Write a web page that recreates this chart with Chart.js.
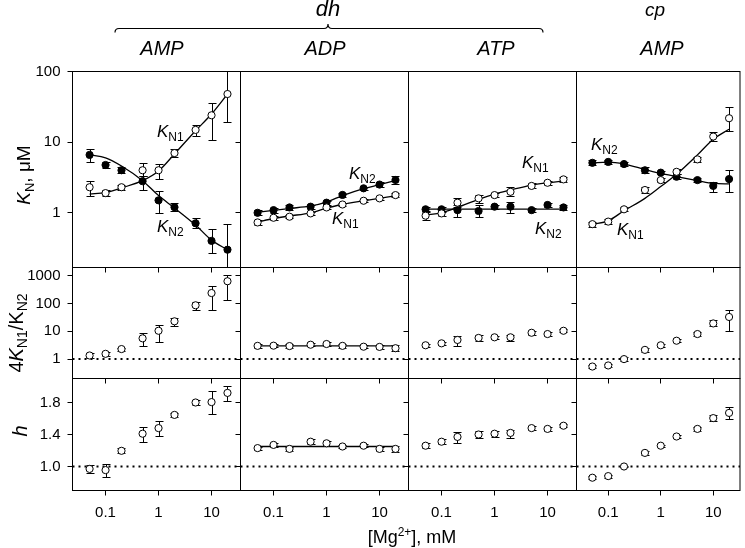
<!DOCTYPE html>
<html>
<head>
<meta charset="utf-8">
<script src="https://cdn.jsdelivr.net/npm/chart.js@4.4.0/dist/chart.umd.min.js"></script>
<style>
  body { margin: 0; background: #fff; }
  #wrap { position: relative; width: 745px; height: 548px; overflow: hidden; font-family: 'Liberation Sans', Arial, sans-serif; color: #000; }
  #wrap canvas { position: absolute; left: 0; top: 0; }
  .txt { position: absolute; white-space: nowrap; line-height: 1; }
  .it { font-style: italic; }
  .kn { font-size: 17px; }
  .kn .s { font-size: 12px; position: relative; top: 4px; }
  .s { position: relative; top: 4px; }
  .rot { transform: translate(-50%, -50%) rotate(-90deg); }
  .ctr { transform: translateX(-50%); }
</style>
</head>
<body>
<div id="wrap">
  <svg width="745" height="548" style="position:absolute;left:0;top:0">
    <path d="M115,32.5 Q115,28.5 119,28.5 L324,28.5 Q328,28.5 328,24 Q328,28.5 332,28.5 L539,28.5 Q543,28.5 543,32.5" fill="none" stroke="#000" stroke-width="1.2"/>
  </svg>
  <div class="txt it ctr" style="left:328px;top:-2px;font-size:22px">dh</div>
  <div class="txt it ctr" style="left:655px;top:0px;font-size:19px">cp</div>
  <div class="txt it ctr" style="left:162px;top:38px;font-size:20px">AMP</div>
  <div class="txt it ctr" style="left:325px;top:38px;font-size:20px">ADP</div>
  <div class="txt it ctr" style="left:496px;top:38px;font-size:20px">ATP</div>
  <div class="txt it ctr" style="left:662px;top:38px;font-size:20px">AMP</div>

  <div class="txt kn" style="left:157px;top:123px"><i>K</i><span class="s">N1</span></div>
  <div class="txt kn" style="left:157px;top:218px"><i>K</i><span class="s">N2</span></div>
  <div class="txt kn" style="left:349px;top:165px"><i>K</i><span class="s">N2</span></div>
  <div class="txt kn" style="left:332px;top:210px"><i>K</i><span class="s">N1</span></div>
  <div class="txt kn" style="left:522px;top:154px"><i>K</i><span class="s">N1</span></div>
  <div class="txt kn" style="left:535px;top:220px"><i>K</i><span class="s">N2</span></div>
  <div class="txt kn" style="left:591px;top:136px"><i>K</i><span class="s">N2</span></div>
  <div class="txt kn" style="left:617px;top:221px"><i>K</i><span class="s">N1</span></div>

  <div class="txt rot" style="left:23px;top:175px;font-size:19px"><i>K</i><span class="s" style="font-size:13px">N</span>, μM</div>
  <div class="txt rot" style="left:16px;top:333px;font-size:20px">4<i>K</i><span class="s" style="font-size:14px">N1</span>/K<span class="s" style="font-size:14px">N2</span></div>
  <div class="txt rot it" style="left:20px;top:431px;font-size:20px">h</div>
  <div class="txt" style="left:412px;top:537px;transform:translate(-50%,-50%);font-size:18px">[Mg<span style="font-size:12px;position:relative;top:-7px">2+</span>], mM</div>
</div>
<script>
// Mg2+ concentrations, mM
const mg = [0.05, 0.1, 0.2, 0.5, 1, 2, 5, 10, 20];

const xTicks = [0.1, 1, 10];
const xTickLabels = ['0.1', '1', '10'];
const kTicks = [1, 10, 100];
const kTickLabels = ['1', '10', '100'];
const ratioTicks = [1, 10, 100, 1000];
const ratioTickLabels = ['1', '10', '100', '1000'];
const hTicks = [1.0, 1.4, 1.8];
const hTickLabels = ['1.0', '1.4', '1.8'];
const refLevel = 1;

// K_N (uM) -- dh AMP
const dhAMP_kn1 = [2.3, 1.9, 2.3, 4.0, 4.0, 7.0, 14.9, 24, 48];
const dhAMP_kn1Hi = [2.8, 2.1, 2.5, 5.0, 4.9, 7.9, 17.5, 36, 110];
const dhAMP_kn1Lo = [1.75, 1.75, 2.1, 3.3, 3.0, 6.2, 12.3, 10.7, 19.5];
const dhAMP_kn2 = [6.6, 4.75, 4.0, 2.8, 1.5, 1.2, 0.71, 0.40, 0.30];
const dhAMP_kn2Hi = [7.9, 5.2, 4.5, 3.3, 2.05, 1.39, 0.83, 0.58, 0.69];
const dhAMP_kn2Lo = [5.3, 4.3, 3.6, 2.1, 1.0, 1.07, 0.6, 0.27, 0.13];
const dhAMP_fit1 = [1.84, 1.93, 2.25, 2.85, 3.9, 6.8, 14.5, 25, 48];
const dhAMP_fit2 = [6.6, 6.0, 4.6, 2.85, 1.75, 1.17, 0.67, 0.41, 0.30];

// dh ADP
const dhADP_kn1 = [0.73, 0.85, 0.88, 0.98, 1.19, 1.31, 1.48, 1.6, 1.78];
const dhADP_kn1Hi = [0.78, 0.9, 0.94, 1.04, 1.26, 1.38, 1.56, 1.68, 1.9];
const dhADP_kn1Lo = [0.68, 0.8, 0.83, 0.92, 1.12, 1.24, 1.4, 1.52, 1.68];
const dhADP_kn2 = [1.0, 1.09, 1.19, 1.22, 1.39, 1.79, 2.22, 2.51, 2.91];
const dhADP_kn2Hi = [1.08, 1.18, 1.28, 1.3, 1.48, 1.9, 2.35, 2.7, 3.3];
const dhADP_kn2Lo = [0.93, 1.0, 1.1, 1.13, 1.3, 1.68, 2.1, 2.35, 2.55];
const dhADP_fit1 = [0.74, 0.83, 0.9, 1.0, 1.16, 1.32, 1.48, 1.6, 1.75];
const dhADP_fit2 = [1.02, 1.08, 1.15, 1.25, 1.42, 1.75, 2.2, 2.5, 2.85];

// dh ATP
const dhATP_kn1 = [0.91, 0.98, 1.39, 1.6, 1.78, 1.98, 2.4, 2.66, 2.97];
const dhATP_kn1Hi = [1.05, 1.06, 1.6, 1.8, 1.93, 2.3, 2.6, 2.85, 3.2];
const dhATP_kn1Lo = [0.8, 0.91, 1.2, 1.39, 1.65, 1.7, 2.25, 2.5, 2.75];
const dhATP_kn2 = [1.12, 1.12, 1.09, 1.06, 1.22, 1.22, 1.09, 1.29, 1.19];
const dhATP_kn2Hi = [1.22, 1.22, 1.29, 1.29, 1.3, 1.43, 1.16, 1.38, 1.27];
const dhATP_kn2Lo = [1.03, 1.03, 0.88, 0.88, 1.14, 1.0, 1.02, 1.2, 1.11];
const dhATP_fit1 = [0.93, 1.0, 1.19, 1.55, 1.84, 2.1, 2.47, 2.66, 2.82];
const dhATP_fit2 = [1.13, 1.13, 1.13, 1.13, 1.13, 1.13, 1.13, 1.13, 1.13];

// cp AMP
const cpAMP_kn1 = [0.69, 0.75, 1.12, 2.1, 2.9, 3.8, 5.7, 12.0, 21.8];
const cpAMP_kn1Hi = [0.75, 0.81, 1.2, 2.35, 3.15, 4.15, 6.2, 14, 31];
const cpAMP_kn1Lo = [0.63, 0.7, 1.05, 1.9, 2.7, 3.5, 5.3, 10.5, 14.5];
const cpAMP_kn2 = [5.1, 5.25, 4.9, 4.0, 3.7, 3.24, 2.9, 2.4, 3.0];
const cpAMP_kn2Hi = [5.5, 5.6, 5.2, 4.4, 3.9, 3.5, 3.1, 2.75, 4.0];
const cpAMP_kn2Lo = [4.7, 4.9, 4.6, 3.6, 3.5, 3.0, 2.7, 2.0, 2.0];
const cpAMP_fit1 = [0.69, 0.77, 1.07, 1.6, 2.35, 3.5, 6.6, 11, 15.2];
const cpAMP_fit2 = [5.1, 5.2, 4.9, 4.1, 3.6, 3.25, 2.85, 2.6, 2.57];

// 4K_N1/K_N2
const dhAMP_ratio = [1.35, 1.55, 2.3, 5.6, 10.5, 23, 87, 240, 640];
const dhAMP_ratioHi = [1.6, 1.8, 2.6, 8.7, 17, 30, 110, 420, 1100];
const dhAMP_ratioLo = [1.1, 1.3, 2.0, 2.9, 4.3, 16, 60, 60, 140];
const dhADP_ratio = [3.0, 3.05, 2.95, 3.3, 3.5, 3.0, 2.8, 2.75, 2.47];
const dhADP_ratioHi = [3.5, 3.55, 3.4, 3.8, 4.0, 3.4, 3.2, 3.15, 3.1];
const dhADP_ratioLo = [2.6, 2.65, 2.55, 2.85, 3.05, 2.6, 2.45, 2.4, 2.0];
const dhADP_ratioFit = [3.0, 3.0, 3.0, 3.0, 3.0, 3.0, 3.0, 3.0, 3.0];
const dhATP_ratio = [3.15, 3.7, 4.9, 5.8, 6.1, 6.1, 8.9, 8.0, 10.5];
const dhATP_ratioHi = [3.6, 4.3, 6.6, 7.2, 7.0, 7.5, 10.3, 9.2, 12];
const dhATP_ratioLo = [2.7, 3.2, 3.0, 4.5, 5.3, 4.5, 7.6, 7.0, 9.1];
const cpAMP_ratio = [0.54, 0.59, 1.0, 2.15, 3.15, 4.6, 8.0, 19.3, 33];
const cpAMP_ratioHi = [0.62, 0.68, 1.15, 2.6, 3.6, 5.3, 9.2, 25, 60];
const cpAMP_ratioLo = [0.47, 0.51, 0.87, 1.8, 2.75, 4.0, 7.0, 15, 10];

// Hill coefficient h
const dhAMP_h = [0.97, 0.955, 1.196, 1.41, 1.48, 1.645, 1.80, 1.805, 1.92];
const dhAMP_hHi = [1.02, 1.03, 1.23, 1.5, 1.57, 1.67, 1.83, 1.94, 2.01];
const dhAMP_hLo = [0.92, 0.87, 1.17, 1.31, 1.38, 1.62, 1.77, 1.66, 1.82];
const dhADP_h = [1.23, 1.27, 1.22, 1.31, 1.29, 1.25, 1.26, 1.22, 1.22];
const dhADP_hHi = [1.25, 1.3, 1.25, 1.34, 1.32, 1.27, 1.28, 1.25, 1.26];
const dhADP_hLo = [1.21, 1.24, 1.19, 1.28, 1.26, 1.23, 1.24, 1.19, 1.18];
const dhADP_hFit = [1.25, 1.25, 1.25, 1.25, 1.25, 1.25, 1.25, 1.25, 1.25];
const dhATP_h = [1.26, 1.31, 1.37, 1.40, 1.41, 1.42, 1.48, 1.47, 1.51];
const dhATP_hHi = [1.29, 1.34, 1.43, 1.44, 1.45, 1.46, 1.505, 1.49, 1.53];
const dhATP_hLo = [1.23, 1.28, 1.30, 1.36, 1.37, 1.36, 1.455, 1.45, 1.49];
const cpAMP_h = [0.86, 0.88, 1.0, 1.17, 1.26, 1.375, 1.47, 1.605, 1.67];
const cpAMP_hHi = [0.88, 0.9, 1.01, 1.2, 1.27, 1.395, 1.49, 1.645, 1.75];
const cpAMP_hLo = [0.84, 0.86, 0.99, 1.14, 1.25, 1.355, 1.45, 1.565, 1.59];

// panel grid
const colLeft = [72.5, 240.5, 408.5, 576.5];
const colWidth = [168, 168, 168, 165];
const rowTop = [71.5, 267.5, 378.5];
const rowHeight = [196, 111, 112];
const xMin = [0.0238, 0.0238, 0.0238, 0.0249];
const xMax = [35.2, 35.2, 35.2, 32.3];
const yMin = [0.168, 0.2, 0.7];
const yMax = [100, 2000, 2.1];
const yLog = [true, true, false];
const yTicks = [kTicks, ratioTicks, hTicks];
const yTickLabels = [kTickLabels, ratioTickLabels, hTickLabels];

Chart.defaults.font.family = "'Liberation Sans', Arial, sans-serif";
Chart.defaults.font.size = 15;
Chart.defaults.color = '#000';

// error bars under the markers + box around each panel
const panelPlugin = {
    id: 'panelPlugin',
    beforeDatasetsDraw(chart) {
        const ctx = chart.ctx;
        const a = chart.chartArea;
        const xs = chart.scales.x, ys = chart.scales.y;
        ctx.save();
        ctx.beginPath();
        ctx.rect(a.left, a.top, a.right - a.left, a.bottom - a.top);
        ctx.clip();
        ctx.strokeStyle = '#000';
        ctx.lineWidth = 1;
        chart.data.datasets.forEach(ds => {
            if (!ds.errHi) return;
            ds.data.forEach((p, i) => {
                const px = Math.round(xs.getPixelForValue(p.x)) + 0.5;
                const yh = Math.round(ys.getPixelForValue(ds.errHi[i])) + 0.5;
                const yl = Math.round(ys.getPixelForValue(ds.errLo[i])) + 0.5;
                ctx.beginPath();
                ctx.moveTo(px, yh); ctx.lineTo(px, yl);
                ctx.moveTo(px - 4, yh); ctx.lineTo(px + 4, yh);
                ctx.moveTo(px - 4, yl); ctx.lineTo(px + 4, yl);
                ctx.stroke();
            });
        });
        ctx.restore();
    },
    afterDraw(chart) {
        const ctx = chart.ctx;
        const a = chart.chartArea;
        ctx.save();
        ctx.strokeStyle = '#000';
        ctx.lineWidth = 1;
        ctx.strokeRect(a.left, a.top, a.right - a.left, a.bottom - a.top);
        ctx.restore();
    }
};

function marks(vals, hi, lo, filled) {
    return {
        data: mg.map((x, i) => ({ x: x, y: vals[i] })),
        errHi: hi, errLo: lo,
        showLine: false,
        pointRadius: 3.6,
        pointBorderWidth: 1,
        pointBorderColor: '#000',
        pointBackgroundColor: filled ? '#000' : '#fff',
        order: 0
    };
}

function curve(vals) {
    return {
        data: mg.map((x, i) => ({ x: x, y: vals[i] })),
        borderColor: '#000',
        borderWidth: 1.3,
        pointRadius: 0,
        cubicInterpolationMode: 'monotone',
        fill: false,
        order: 1
    };
}

function refLine(col) {
    return {
        data: [{ x: xMin[col], y: refLevel }, { x: xMax[col], y: refLevel }],
        borderColor: '#000',
        borderWidth: 2,
        borderDash: [2, 4],
        pointRadius: 0,
        fill: false,
        order: 2
    };
}

const panels = [
    [
        [marks(dhAMP_kn1, dhAMP_kn1Hi, dhAMP_kn1Lo, false), marks(dhAMP_kn2, dhAMP_kn2Hi, dhAMP_kn2Lo, true), curve(dhAMP_fit1), curve(dhAMP_fit2)],
        [marks(dhADP_kn1, dhADP_kn1Hi, dhADP_kn1Lo, false), marks(dhADP_kn2, dhADP_kn2Hi, dhADP_kn2Lo, true), curve(dhADP_fit1), curve(dhADP_fit2)],
        [marks(dhATP_kn1, dhATP_kn1Hi, dhATP_kn1Lo, false), marks(dhATP_kn2, dhATP_kn2Hi, dhATP_kn2Lo, true), curve(dhATP_fit1), curve(dhATP_fit2)],
        [marks(cpAMP_kn1, cpAMP_kn1Hi, cpAMP_kn1Lo, false), marks(cpAMP_kn2, cpAMP_kn2Hi, cpAMP_kn2Lo, true), curve(cpAMP_fit1), curve(cpAMP_fit2)]
    ],
    [
        [marks(dhAMP_ratio, dhAMP_ratioHi, dhAMP_ratioLo, false), refLine(0)],
        [marks(dhADP_ratio, dhADP_ratioHi, dhADP_ratioLo, false), curve(dhADP_ratioFit), refLine(1)],
        [marks(dhATP_ratio, dhATP_ratioHi, dhATP_ratioLo, false), refLine(2)],
        [marks(cpAMP_ratio, cpAMP_ratioHi, cpAMP_ratioLo, false), refLine(3)]
    ],
    [
        [marks(dhAMP_h, dhAMP_hHi, dhAMP_hLo, false), refLine(0)],
        [marks(dhADP_h, dhADP_hHi, dhADP_hLo, false), curve(dhADP_hFit), refLine(1)],
        [marks(dhATP_h, dhATP_hHi, dhATP_hLo, false), refLine(2)],
        [marks(cpAMP_h, cpAMP_hHi, cpAMP_hLo, false), refLine(3)]
    ]
];

const wrap = document.getElementById('wrap');

panels.forEach((row, r) => {
    row.forEach((datasets, c) => {
        const canvas = document.createElement('canvas');
        canvas.width = 745;
        canvas.height = 548;
        wrap.insertBefore(canvas, wrap.firstChild);

        const below = 548 - rowTop[r] - rowHeight[r];

        new Chart(canvas.getContext('2d'), {
            type: 'line',
            data: { datasets: datasets },
            options: {
                responsive: false,
                animation: false,
                devicePixelRatio: 1,
                events: [],
                layout: {
                    padding: {
                        left: 0,
                        top: rowTop[r],
                        right: 745 - colLeft[c] - colWidth[c],
                        bottom: 0
                    }
                },
                plugins: { legend: { display: false }, tooltip: { enabled: false } },
                scales: {
                    x: {
                        type: 'logarithmic',
                        position: 'bottom',
                        min: xMin[c],
                        max: xMax[c],
                        afterBuildTicks: s => { s.ticks = xTicks.map(v => ({ value: v })); },
                        afterFit: s => { s.height = below; },
                        ticks: {
                            display: r === 2,
                            autoSkip: false,
                            maxRotation: 0,
                            padding: 8,
                            callback: (v, i) => xTickLabels[i]
                        },
                        grid: { drawOnChartArea: false, drawTicks: true, tickLength: 5, color: '#000', lineWidth: 1 },
                        border: { display: false }
                    },
                    y: {
                        type: yLog[r] ? 'logarithmic' : 'linear',
                        position: 'left',
                        min: yMin[r],
                        max: yMax[r],
                        afterBuildTicks: s => { s.ticks = yTicks[r].map(v => ({ value: v })); },
                        afterFit: s => { s.width = colLeft[c]; },
                        ticks: {
                            display: c === 0,
                            autoSkip: false,
                            padding: 7,
                            callback: (v, i) => yTickLabels[r][i]
                        },
                        grid: { drawOnChartArea: false, drawTicks: true, tickLength: 5, color: '#000', lineWidth: 1 },
                        border: { display: false }
                    }
                }
            },
            plugins: [panelPlugin]
        });
    });
});
</script>
</body>
</html>
